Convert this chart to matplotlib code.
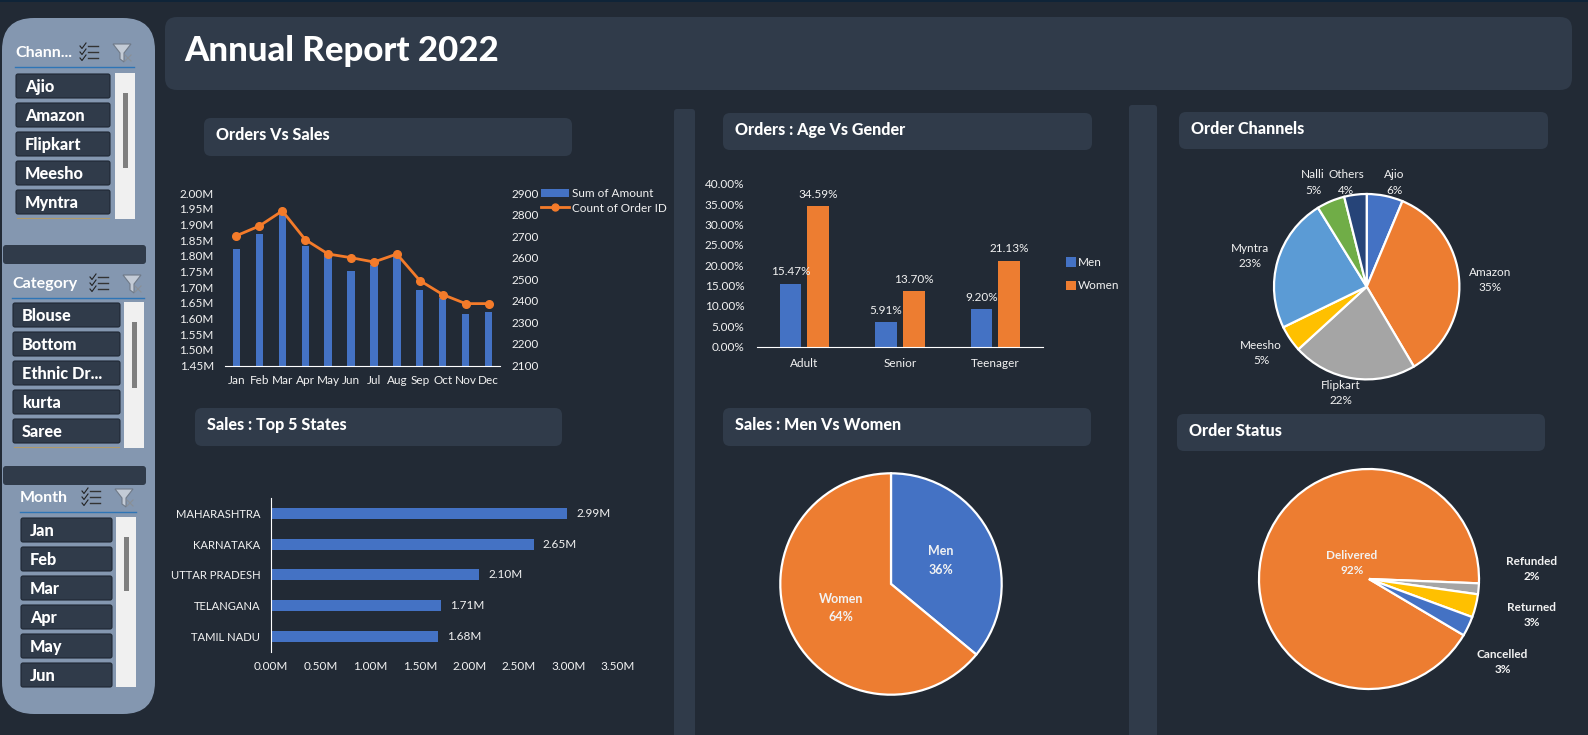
import matplotlib
matplotlib.use('Agg')
import matplotlib.pyplot as plt
from matplotlib.patches import FancyBboxPatch, Rectangle, Polygon
from matplotlib.transforms import Affine2D
from matplotlib.lines import Line2D
import numpy as np

W, H = 1588, 735

# data
months = ['Jan', 'Feb', 'Mar', 'Apr', 'May', 'Jun', 'Jul', 'Aug', 'Sep', 'Oct', 'Nov', 'Dec']
amount = [1.82, 1.87, 1.93, 1.83, 1.80, 1.75, 1.77, 1.80, 1.69, 1.665, 1.615, 1.62]
order_count = [2702, 2747, 2817, 2684, 2617, 2600, 2580, 2617, 2494, 2429, 2387, 2387]

age_groups = ['Adult', 'Senior', 'Teenager']
men_share = [15.47, 5.91, 9.20]
women_share = [34.59, 13.70, 21.13]

states = ['MAHARASHTRA', 'KARNATAKA', 'UTTAR PRADESH', 'TELANGANA', 'TAMIL NADU']
state_sales = [2.99, 2.65, 2.10, 1.71, 1.68]

channels = ['Ajio', 'Amazon', 'Flipkart', 'Meesho', 'Myntra', 'Nalli', 'Others']
channel_share = [6.3, 35.2, 21.7, 4.6, 23.4, 4.9, 3.9]

genders = ['Men', 'Women']
gender_sales = [36, 64]

statuses = ['Delivered', 'Refunded', 'Returned', 'Cancelled']
status_share = [92.1, 1.6, 3.4, 2.9]

channel_items = ['Ajio', 'Amazon', 'Flipkart', 'Meesho', 'Myntra']
category_items = ['Blouse', 'Bottom', 'Ethnic Dr...', 'kurta', 'Saree']
month_items = ['Jan', 'Feb', 'Mar', 'Apr', 'May', 'Jun']

BG = '#222a35'
PANEL = '#303b4a'
SIDE = '#8497b0'
BLUE = '#4472c4'
ORANGE = '#ed7d31'
TXT = '#f2f2f2'
FONT = 'Lato'
FS = 8.5

plt.rcParams['font.family'] = [FONT, 'DejaVu Sans']

fig = plt.figure(figsize=(W / 100, H / 100), dpi=100, facecolor=BG)

# pixel canvas for panels and the slicers
bg = fig.add_axes([0, 0, 1, 1], zorder=0)
bg.set_xlim(0, W)
bg.set_ylim(H, 0)
bg.axis('off')


def ax_px(x0, y0, x1, y1):
    a = fig.add_axes([x0 / W, 1 - y1 / H, (x1 - x0) / W, (y1 - y0) / H], zorder=2)
    a.patch.set_alpha(0)
    return a


def box(x0, y0, x1, y1, r=6, color=PANEL, ec='none', lw=0, z=1):
    bg.add_patch(FancyBboxPatch((x0, y0), x1 - x0, y1 - y0,
                                boxstyle='round,pad=0,rounding_size=%s' % r,
                                fc=color, ec=ec, lw=lw, zorder=z))


def header(x0, y0, x1, y1, text):
    box(x0, y0, x1, y1, r=7)
    bg.text(x0 + 12, (y0 + y1) / 2 - 2, text, color='white', fontsize=11.6,
            fontweight='black', va='center', ha='left')


def slicer(title, tx, ty, ux0, ux1, ix, fx, items, item_x0, item_x1, item_y0,
           sb_x, sb_y0, sb_y1, th_y0, th_y1):
    bg.text(tx, ty + 1, title, color='white', fontsize=11.5, fontweight='bold', va='center')
    bg.plot([ux0, ux1], [ty + 15, ty + 15], color='#2e75b6', lw=1, zorder=3)
    # checklist icon
    for k in range(3):
        yy = ty - 6 + k * 6
        bg.plot([ix, ix + 2, ix + 6], [yy, yy + 2.5, yy - 3], color='#222222', lw=0.8, zorder=3)
        bg.plot([ix + 8, ix + 18], [yy, yy], color='#333333', lw=1, zorder=3)
    # funnel icon
    bg.add_patch(Polygon([(fx, ty - 8), (fx + 18, ty - 8), (fx + 11, ty + 1), (fx + 11, ty + 10),
                          (fx + 7, ty + 7), (fx + 7, ty + 1)],
                         fc='#c3cbd6', ec='#6f7a88', lw=0.8, zorder=3))
    bg.plot([fx + 12, fx + 18], [ty + 3, ty + 9], color='#8a8f96', lw=0.8, zorder=4)
    bg.plot([fx + 12, fx + 18], [ty + 9, ty + 3], color='#8a8f96', lw=0.8, zorder=4)
    for k, item in enumerate(items):
        y = item_y0 + k * 29
        box(item_x0, y, item_x1, y + 24, r=2, color=PANEL, ec='#1f2733', lw=0.8, z=2)
        bg.text(item_x0 + 9, y + 13, item, color='white', fontsize=11.7, fontweight='black',
                va='center', zorder=3)
    bg.add_patch(Rectangle((sb_x, sb_y0), 20, sb_y1 - sb_y0, fc='#f0f0f0', ec='none', zorder=2))
    bg.add_patch(Rectangle((sb_x + 8, th_y0), 5, th_y1 - th_y0, fc='#7f7f7f', ec='none', zorder=3))


# background panels
bg.add_patch(Rectangle((0, 0), W, 1.5, fc='#0f2438', ec='none', zorder=1))
box(165, 17, 1572, 90, r=12)
box(674, 109, 695, 745, r=3)
box(1129, 105, 1157, 745, r=3)
box(2, 18, 155, 714, r=32, color=SIDE)
box(3, 245, 146, 264, r=3)
box(3, 466, 146, 485, r=3)

bg.text(184, 51, 'Annual Report 2022', color='white', fontsize=25, fontweight='black',
        va='center', ha='left')

header(204, 118, 572, 156, 'Orders Vs Sales')
header(723, 113, 1092, 150, 'Orders : Age Vs Gender')
header(1179, 112, 1548, 149, 'Order Channels')
header(195, 408, 562, 446, 'Sales : Top 5 States')
header(723, 408, 1091, 446, 'Sales : Men Vs Women')
header(1177, 414, 1545, 451, 'Order Status')

slicer('Chann...', 15, 52, 15, 134, 80, 113, channel_items, 16, 110, 74, 115, 73, 219, 93, 168)
slicer('Category', 12, 283, 12, 144, 90, 123, category_items, 13, 120, 303, 124, 302, 448, 322, 388)
slicer('Month', 20, 497, 20, 136, 82, 115, month_items, 21, 112, 518, 116, 517, 687, 537, 591)
bg.plot([17, 109], [218, 218], color='#b09a6a', lw=0.8, zorder=2)
bg.plot([14, 119], [447, 447], color='#b09a6a', lw=0.8, zorder=2)

# Orders Vs Sales
ax1 = ax_px(225, 193, 500, 365.5)
ax1.bar(months, amount, width=0.32, color=BLUE, label='Sum of Amount')
ax1.set_xlim(-0.5, 11.5)
ax1.set_ylim(1.45, 2.00)
ax1.set_yticks(np.arange(1.45, 2.001, 0.05))
ax1.set_yticklabels(['%.2fM' % v for v in np.arange(1.45, 2.001, 0.05)])
ax2 = ax1.twinx()
ax2.patch.set_alpha(0)
line = ax2.plot(months, order_count, color='#f47b2a', lw=2, marker='o', ms=5.5,
                label='Count of Order ID')
ax2.set_ylim(2100, 2900)
ax2.set_yticks(np.arange(2100, 2901, 100))
for a in (ax1, ax2):
    for s in a.spines.values():
        s.set_visible(False)
ax1.spines['bottom'].set_visible(True)
ax1.spines['bottom'].set_color('white')
ax1.tick_params(axis='x', length=0, pad=6.5, colors=TXT, labelsize=FS)
ax1.tick_params(axis='y', length=0, pad=8, colors=TXT, labelsize=FS)
ax2.tick_params(axis='y', length=0, pad=8.4, colors=TXT, labelsize=FS)
leg_tr = Affine2D().scale(1, -1).translate(0, H)
handles = [Rectangle((0, 0), 1, 1, fc=BLUE), Line2D([], [], color='#f47b2a', lw=2, marker='o', ms=5)]
fig.legend(handles, ['Sum of Amount', 'Count of Order ID'], loc='upper left',
           bbox_to_anchor=(541, 188), bbox_transform=leg_tr, frameon=False, fontsize=FS,
           labelcolor=TXT, handlelength=2.35, handletextpad=0.3, labelspacing=0.3,
           borderpad=0, borderaxespad=0)

# Orders : Age Vs Gender
ax3 = ax_px(756.7, 184, 1043, 346.5)
xpos = np.arange(len(age_groups))
bw = 0.227
off = 0.145
b_men = ax3.bar(xpos - off, men_share, bw, color=BLUE, label='Men')
b_women = ax3.bar(xpos + off, women_share, bw, color=ORANGE, label='Women')
ax3.set_xlim(-0.5, 2.5)
ax3.set_ylim(0, 40)
ax3.set_xticks(xpos)
ax3.set_xticklabels(age_groups)
ax3.set_yticks(np.arange(0, 41, 5))
ax3.set_yticklabels(['%.2f%%' % v for v in np.arange(0, 41, 5)])
for bars, vals in ((b_men, men_share), (b_women, women_share)):
    ax3.bar_label(bars, labels=['%.2f%%' % v for v in vals], padding=4.5, color=TXT, fontsize=FS)
for s in ax3.spines.values():
    s.set_visible(False)
ax3.spines['bottom'].set_visible(True)
ax3.spines['bottom'].set_color('white')
ax3.tick_params(axis='x', length=0, pad=8, colors=TXT, labelsize=FS)
ax3.tick_params(axis='y', length=0, pad=9, colors=TXT, labelsize=FS)
fig.legend(handles=[b_men, b_women], labels=genders, loc='upper left',
           bbox_to_anchor=(1065.5, 257), bbox_transform=leg_tr, frameon=False, fontsize=FS,
           labelcolor=TXT, handlelength=0.85, handleheight=0.85, handletextpad=0.2,
           labelspacing=1.05, borderpad=0, borderaxespad=0)

# Sales : Top 5 States
ax4 = ax_px(271.3, 498, 618, 651.7)
ypos = np.arange(len(states))
b_states = ax4.barh(ypos, state_sales, 0.36, color=BLUE)
ax4.set_ylim(4.5, -0.5)
ax4.set_xlim(0, 3.5)
ax4.set_yticks(ypos)
ax4.set_yticklabels(states)
ax4.set_xticks(np.arange(0, 3.51, 0.5))
ax4.set_xticklabels(['%.2fM' % v for v in np.arange(0, 3.51, 0.5)])
ax4.bar_label(b_states, labels=['%.2fM' % v for v in state_sales], padding=6.5, color=TXT, fontsize=FS)
for s in ax4.spines.values():
    s.set_visible(False)
ax4.spines['left'].set_visible(True)
ax4.spines['left'].set_color('white')
ax4.tick_params(axis='x', length=0, pad=7, colors=TXT, labelsize=FS)
ax4.tick_params(axis='y', length=0, pad=8, colors=TXT, labelsize=8.1)

# Order Channels
cx, cy, r = 1366.7, 286.7, 92.7
ax5 = ax_px(cx - r, cy - r, cx + r, cy + r)
ax5.pie(channel_share, startangle=90, counterclock=False,
        colors=[BLUE, ORANGE, '#a5a5a5', '#ffc000', '#5b9bd5', '#70ad47', '#264478'],
        wedgeprops={'edgecolor': 'white', 'linewidth': 1.6, 'clip_on': False})
ax5.set_xlim(-1, 1)
ax5.set_ylim(-1, 1)
channel_label_xy = [(1394.5, 182.5), (1490, 280), (1340.5, 393), (1261, 353), (1250, 256), (1313, 182.5), (1346, 182.5)]
for name, share, (lx, ly) in zip(channels, channel_share, channel_label_xy):
    bg.text(lx, ly, '%s\n%d%%' % (name, round(share)), color=TXT, fontsize=FS, ha='center',
            va='center', linespacing=1.55, zorder=3)

# Sales : Men Vs Women
cx, cy, r = 891, 584, 110.7
ax6 = ax_px(cx - r, cy - r, cx + r, cy + r)
ax6.pie(gender_sales, startangle=90, counterclock=False, colors=[BLUE, ORANGE],
        wedgeprops={'edgecolor': 'white', 'linewidth': 1.6, 'clip_on': False})
ax6.set_xlim(-1, 1)
ax6.set_ylim(-1, 1)
gender_label_xy = [(940.7, 560.5), (840.7, 608)]
for name, share, (lx, ly) in zip(genders, gender_sales, gender_label_xy):
    ax6.annotate('%s\n%d%%' % (name, share), xy=(lx, H - ly), xycoords='figure pixels', color=TXT,
                 fontsize=9, fontweight='bold', ha='center', va='center', linespacing=1.65)

# Order Status
cx, cy, r = 1369, 579, 110
ax7 = ax_px(cx - r, cy - r, cx + r, cy + r)
ax7.pie(status_share, startangle=-30.7, counterclock=False,
        colors=[ORANGE, '#a5a5a5', '#ffc000', BLUE],
        wedgeprops={'edgecolor': 'white', 'linewidth': 1.6, 'clip_on': False})
ax7.set_xlim(-1, 1)
ax7.set_ylim(-1, 1)
status_label_xy = [(1352, 563), (1532, 569), (1532, 615), (1502.5, 662)]
for i, (name, share, (lx, ly)) in enumerate(zip(statuses, status_share, status_label_xy)):
    ax7.annotate('%s\n%d%%' % (name, round(share)), xy=(lx, H - ly), xycoords='figure pixels',
                 color=TXT, fontsize=FS, fontweight='bold', ha='center', va='center',
                 linespacing=1.55, annotation_clip=False)

fig.savefig('out.png', dpi=100, facecolor=BG)
